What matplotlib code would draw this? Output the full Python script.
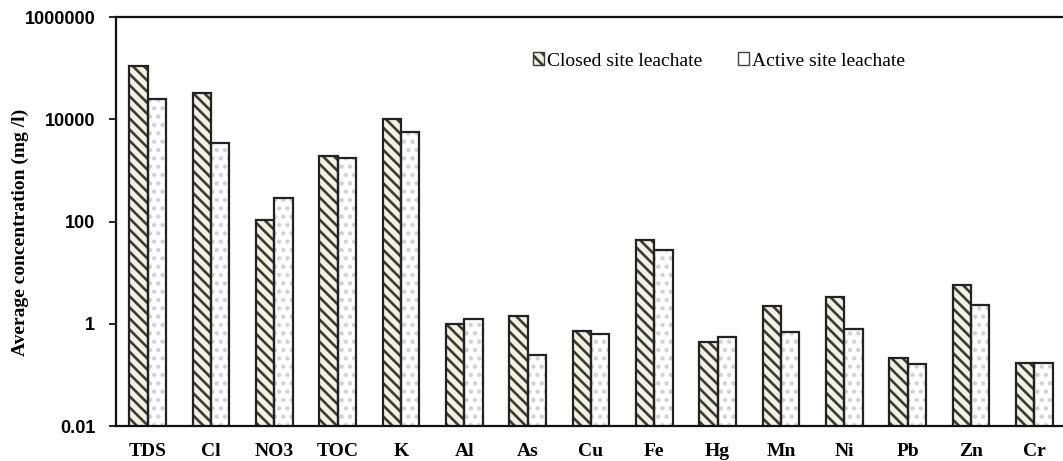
import numpy as np
import matplotlib
matplotlib.use("Agg")
import matplotlib.pyplot as plt
from matplotlib.patches import Patch

# --- dane ---
params = ["TDS", "Cl", "NO3", "TOC", "K", "Al", "As", "Cu", "Fe", "Hg",
          "Mn", "Ni", "Pb", "Zn", "Cr"]
closed_site = [110000, 32000, 105, 1870, 10000, 1.0, 1.43, 0.72, 42.5, 0.43,
               2.25, 3.3, 0.21, 5.6, 0.17]
active_site = [24500, 3500, 290, 1780, 5560, 1.26, 0.245, 0.63, 27.5, 0.55,
               0.69, 0.79, 0.165, 2.35, 0.17]
yticks = [0.01, 1, 100, 10000, 1000000]
ytick_labels = ["0.01", "1", "100", "10000", "1000000"]

plt.rcParams["hatch.linewidth"] = 1.9

fig = plt.figure(figsize=(10.63, 4.61), dpi=100)
ax = fig.add_axes([116/1063, 35/461, 950/1063, 409/461])
ax.set_yscale("log")

x = np.arange(len(params))
w = 0.29

# warstwa z kreskowaniem (bez obramowania)
ax.bar(x - w/2, closed_site, w, facecolor="#f3f1e4", edgecolor="#3b3a33",
       hatch="\\\\\\", linewidth=0)
ax.bar(x + w/2, active_site, w, facecolor="white", edgecolor="#d2d2d2",
       hatch="..", linewidth=0)
# obramowanie
ax.bar(x - w/2, closed_site, w, fill=False, edgecolor="#222222", linewidth=1.6)
ax.bar(x + w/2, active_site, w, fill=False, edgecolor="#222222", linewidth=1.6)

ax.set_xlim(-0.5, len(params) - 0.5)
ax.set_ylim(0.01, 1e6)
ax.set_yticks(yticks)
ax.set_yticklabels(ytick_labels, fontfamily="Liberation Sans",
                   fontweight="bold", fontsize=13)
ax.yaxis.set_minor_locator(matplotlib.ticker.NullLocator())
ax.tick_params(axis="y", length=5, width=1.2, pad=10, direction="out")
ax.set_xticks(x)
ax.set_xticklabels(params, fontfamily="Liberation Serif", fontweight="bold",
                   fontsize=14)
ax.tick_params(axis="x", length=0, pad=12)

ax.spines["right"].set_visible(False)
for s in ["left", "top", "bottom"]:
    ax.spines[s].set_linewidth(1.6)
    ax.spines[s].set_color("#111111")

fig.text(20/1063, 1 - 232/461, "Average concentration (mg /l)",
         rotation=90, ha="center", va="center",
         fontfamily="Liberation Serif", fontweight="bold", fontsize=14)

handles = [
    Patch(facecolor="#f3f1e4", edgecolor="#3b3a33", hatch="\\\\\\",
          label="Closed site leachate"),
    Patch(facecolor="white", edgecolor="#444444", label="Active site leachate"),
]
fig.legend(handles=handles, loc="center", bbox_to_anchor=(719/1063, 1 - 61/461),
           ncol=2, frameon=False, handlelength=0.6, handleheight=0.6,
           handletextpad=0.15, columnspacing=1.8,
           prop={"family": "Liberation Serif", "size": 14})

fig.savefig("out.png", dpi=100)
